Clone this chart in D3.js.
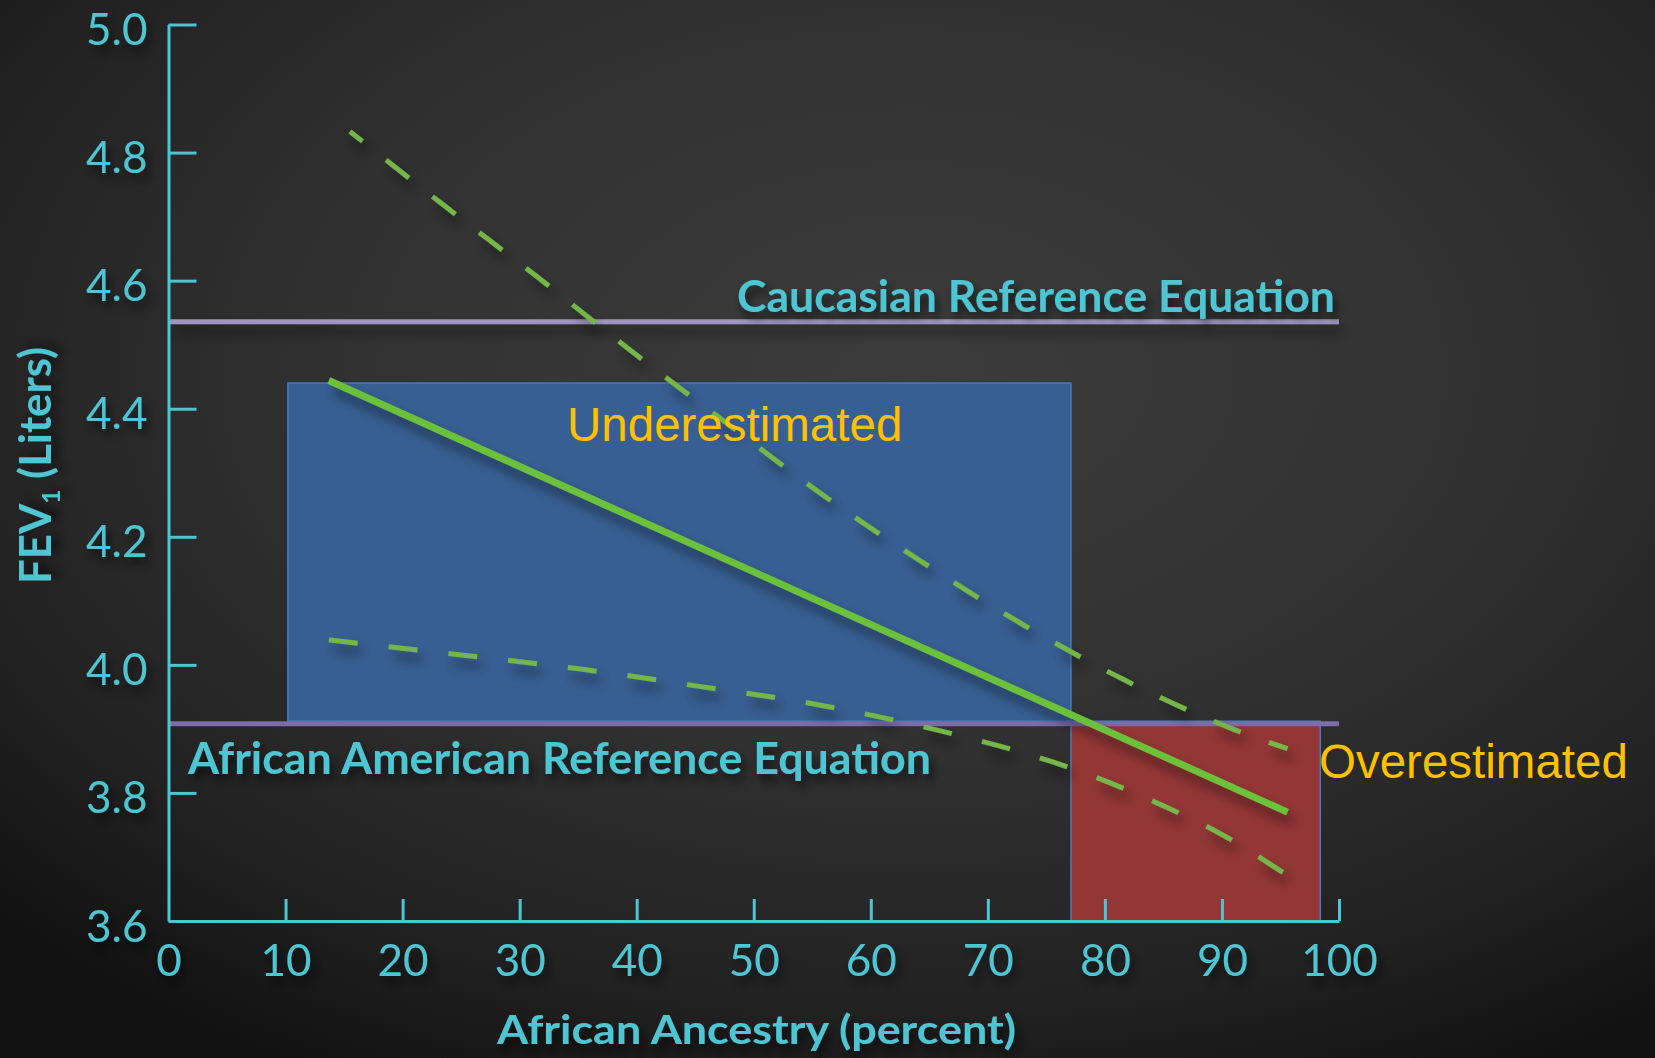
<!DOCTYPE html>
<html>
<head>
<meta charset="utf-8">
<script src="https://cdn.jsdelivr.net/npm/d3@7"></script>
<style>
  html, body { margin: 0; padding: 0; background: #222; overflow: hidden; }
  svg { display: block; }
</style>
</head>
<body>
<svg id="chart" width="1655" height="1058"></svg>
<script>
// ---------------- data ----------------
const xTicks = [0, 10, 20, 30, 40, 50, 60, 70, 80, 90, 100];
const yTicks = [3.6, 3.8, 4.0, 4.2, 4.4, 4.6, 4.8, 5.0];
const yTickLabels = ["3.6", "3.8", "4.0", "4.2", "4.4", "4.6", "4.8", "5.0"];
const caucasianRef = 4.536;
const africanAmericanRef = 3.908;
// [x0, x1, yLow, yHigh]
const underestimatedBox = [10.2, 77.1, 3.912, 4.440];
const overestimatedBox = [77.1, 98.4, 3.600, 3.912];
const fitLine = [[13.7, 4.444], [95.6, 3.770]];
const upperBand = [[15.5, 4.833], [23.5, 4.718], [31.5, 4.606], [39.4, 4.492], [47.5, 4.380],
  [55.7, 4.268], [64.1, 4.164], [72.8, 4.065], [81.6, 3.977], [90.9, 3.900], [95.6, 3.869]];
const lowerBand = [[13.7, 4.039], [25.2, 4.015], [35.4, 3.993], [45.5, 3.966], [55.7, 3.937],
  [65.7, 3.898], [75.6, 3.848], [80.4, 3.816], [85.1, 3.779], [89.8, 3.737], [95.2, 3.676]];
const labels = {
  caucasian: "Caucasian Reference Equation",
  african: "African American Reference Equation",
  under: "Underestimated",
  over: "Overestimated",
  xTitle: "African Ancestry (percent)",
  yTitleMain: "FEV",
  yTitleSub: "1",
  yTitleRest: " (Liters)"
};

// ---------------- drawing ----------------
const svg = d3.select("#chart");
const W = 1655, H = 1058;
const teal = "#4ec5d2";

const defs = svg.append("defs");
const bg = defs.append("radialGradient").attr("id", "bg")
  .attr("cx", "55%").attr("cy", "35%").attr("r", "75%");
bg.append("stop").attr("offset", "0%").attr("stop-color", "#3c3c3c");
bg.append("stop").attr("offset", "45%").attr("stop-color", "#323232");
bg.append("stop").attr("offset", "80%").attr("stop-color", "#222222");
bg.append("stop").attr("offset", "100%").attr("stop-color", "#121212");

const sh = defs.append("filter").attr("id", "shadow")
  .attr("x", "-10%").attr("y", "-10%").attr("width", "130%").attr("height", "150%");
sh.append("feDropShadow").attr("dx", 4).attr("dy", 7).attr("stdDeviation", 5)
  .attr("flood-color", "#000").attr("flood-opacity", 0.6);

const shLine = defs.append("filter").attr("id", "shadowLine")
  .attr("filterUnits", "userSpaceOnUse").attr("x", 0).attr("y", 0).attr("width", W).attr("height", H);
shLine.append("feDropShadow").attr("dx", 5).attr("dy", 9).attr("stdDeviation", 6)
  .attr("flood-color", "#000").attr("flood-opacity", 0.5);

svg.append("rect").attr("width", W).attr("height", H).attr("fill", "url(#bg)");

const x = d3.scaleLinear().domain([0, 100]).range([168.5, 1339]);
const y = d3.scaleLinear().domain([3.6, 5.0]).range([921, 24.5]);

// Caucasian reference line
svg.append("line")
  .attr("x1", x(0)).attr("x2", x(100))
  .attr("y1", y(caucasianRef)).attr("y2", y(caucasianRef))
  .attr("stroke", "#9e96bf").attr("stroke-width", 5)
  .attr("filter", "url(#shadowLine)");

// boxes
svg.append("rect")
  .attr("x", x(underestimatedBox[0])).attr("y", y(underestimatedBox[3]))
  .attr("width", x(underestimatedBox[1]) - x(underestimatedBox[0]))
  .attr("height", y(underestimatedBox[2]) - y(underestimatedBox[3]))
  .attr("fill", "#385f93").attr("stroke", "#4b7bc0").attr("stroke-width", 1.5);

svg.append("rect")
  .attr("x", x(overestimatedBox[0])).attr("y", y(overestimatedBox[3]))
  .attr("width", x(overestimatedBox[1]) - x(overestimatedBox[0]))
  .attr("height", y(overestimatedBox[2]) - y(overestimatedBox[3]))
  .attr("fill", "#943636").attr("stroke", "#4b7bc0").attr("stroke-width", 1.5);

// African American reference line
svg.append("line")
  .attr("x1", x(0)).attr("x2", x(100))
  .attr("y1", y(africanAmericanRef)).attr("y2", y(africanAmericanRef))
  .attr("stroke", "#7c6ca8").attr("stroke-width", 5);

// axes
const yAxis = d3.axisLeft(y).tickValues(yTicks).tickFormat((d, i) => yTickLabels[i])
  .tickSize(-28).tickSizeOuter(0).tickPadding(21);
const gy = svg.append("g").attr("transform", `translate(${x(0)},0)`).call(yAxis);
gy.select(".domain").attr("stroke", teal).attr("stroke-width", 3);
gy.selectAll(".tick line").attr("stroke", teal).attr("stroke-width", 3);
gy.selectAll(".tick text").attr("fill", teal)
  .attr("font-family", "Lato, 'Open Sans', sans-serif").attr("font-size", 44)
  .attr("dy", "0").attr("y", 20);

const xAxis = d3.axisBottom(x).tickValues(xTicks).tickFormat(d3.format("d"))
  .tickSize(-22).tickSizeOuter(0).tickPadding(0);
const gx = svg.append("g").attr("transform", `translate(0,${y(3.6)})`).call(xAxis);
gx.select(".domain").attr("stroke", teal).attr("stroke-width", 3);
gx.selectAll(".tick line").attr("stroke", teal).attr("stroke-width", 3);
gx.selectAll(".tick text").attr("fill", teal)
  .attr("font-family", "Lato, 'Open Sans', sans-serif").attr("font-size", 44)
  .attr("dy", "0").attr("y", 55);
gx.selectAll(".tick").filter(d => d === 0).select("line").remove();
svg.selectAll(".tick text").attr("filter", "url(#shadow)");

// bands and fit line
const line = d3.line().x(d => x(d[0])).y(d => y(d[1])).curve(d3.curveMonotoneX);
svg.append("path").datum(upperBand).attr("d", line)
  .attr("fill", "none").attr("stroke", "#74b64a").attr("stroke-width", 5)
  .attr("stroke-dasharray", "29,30").attr("stroke-dashoffset", 13)
  .attr("filter", "url(#shadowLine)");
const lowerPath = svg.append("path").datum(lowerBand).attr("d", line)
  .attr("fill", "none").attr("stroke", "#74b64a").attr("stroke-width", 5)
  .attr("filter", "url(#shadowLine)");
{
  // full dash at both ends
  const L = lowerPath.node().getTotalLength();
  const dash = 29;
  const n = Math.round((L + 30) / (dash + 30));
  const gap = (L - n * dash) / (n - 1);
  lowerPath.attr("stroke-dasharray", `${dash},${gap}`);
}
svg.append("path").datum(fitLine).attr("d", d3.line().x(d => x(d[0])).y(d => y(d[1])))
  .attr("fill", "none").attr("stroke", "#6cc13b").attr("stroke-width", 7)
  .attr("filter", "url(#shadowLine)");

// labels
function fitText(sel, w) {
  sel.attr("textLength", w).attr("lengthAdjust", "spacingAndGlyphs");
}
const boldFont = "Lato, 'Open Sans', sans-serif";

svg.append("text").text(labels.caucasian)
  .attr("x", 737).attr("y", y(caucasianRef) - 10)
  .attr("font-family", boldFont).attr("font-weight", 700).attr("font-size", 44)
  .attr("fill", teal).attr("filter", "url(#shadow)")
  .call(fitText, 598);

svg.append("text").text(labels.african)
  .attr("x", 188).attr("y", y(africanAmericanRef) + 50)
  .attr("font-family", boldFont).attr("font-weight", 700).attr("font-size", 44)
  .attr("fill", teal).attr("filter", "url(#shadow)")
  .call(fitText, 743);

svg.append("text").text(labels.xTitle)
  .attr("x", 497).attr("y", 1044)
  .attr("font-family", boldFont).attr("font-weight", 700).attr("font-size", 41)
  .attr("fill", teal).attr("filter", "url(#shadow)")
  .call(fitText, 519);

const yt = svg.append("text")
  .attr("transform", "translate(51,584) rotate(-90)")
  .attr("font-family", boldFont).attr("font-weight", 700).attr("font-size", 43)
  .attr("fill", teal).attr("filter", "url(#shadow)");
yt.append("tspan").text(labels.yTitleMain);
yt.append("tspan").text(labels.yTitleSub).attr("font-size", 24).attr("dy", 9);
yt.append("tspan").text(labels.yTitleRest).attr("dy", -9);
yt.call(fitText, 237);

svg.append("text").text(labels.under)
  .attr("x", 567).attr("y", 441)
  .attr("font-family", "'Liberation Sans', Arial, sans-serif").attr("font-size", 47.5)
  .attr("fill", "#ffc000");

svg.append("text").text(labels.over)
  .attr("x", 1319).attr("y", 778)
  .attr("font-family", "'Liberation Sans', Arial, sans-serif").attr("font-size", 47.5)
  .attr("fill", "#ffc000");
</script>
</body>
</html>
